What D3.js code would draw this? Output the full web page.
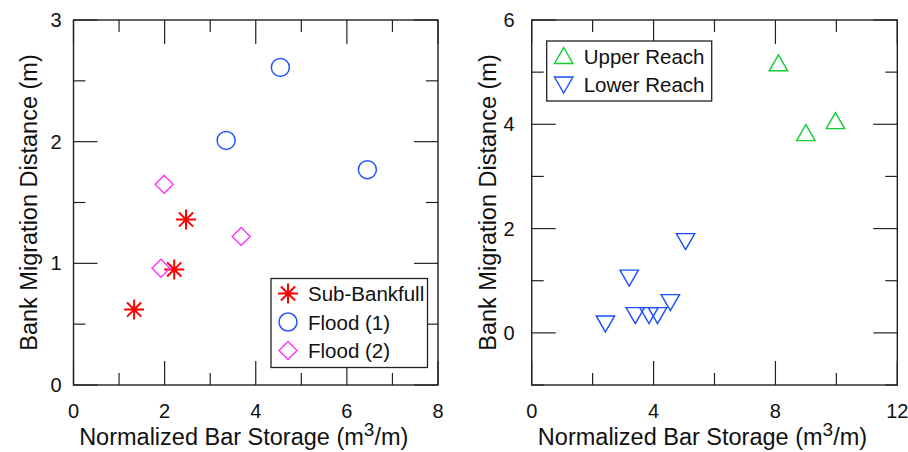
<!DOCTYPE html>
<html>
<head>
<meta charset="utf-8">
<script src="https://cdn.jsdelivr.net/npm/d3@7/dist/d3.min.js"></script>
<style>
	body { margin: 0; background: #fff; }
	svg { display: block; font-family: 'Liberation Sans', Arial, Helvetica, sans-serif; }
	.frame { fill: none; stroke: #222; stroke-width: 1.4; }
	.tick { stroke: #222; stroke-width: 1.2; }
	.ticklabel { font-size: 20px; fill: #111; }
	.title { font-size: 23.5px; fill: #111; }
	.legtext { font-size: 20.5px; fill: #111; }
</style>
</head>
<body>
<div id="chart"></div>
<script>
let width = 908
let height = 452

// left panel data (x: normalized bar storage, y: bank migration distance)
let subBankfullX = [1.33, 2.21, 2.47]
let subBankfullY = [0.62, 0.95, 1.36]
let flood1X = [4.54, 3.35, 6.45]
let flood1Y = [2.61, 2.01, 1.77]
let flood2X = [1.99, 3.68, 1.92]
let flood2Y = [1.65, 1.22, 0.96]

// right panel data
let upperX = [8.1, 9.0, 9.97]
let upperY = [5.17, 3.83, 4.06]
let lowerX = [2.42, 3.2, 3.4, 3.85, 4.13, 4.55, 5.05]
let lowerY = [0.18, 1.06, 0.34, 0.34, 0.34, 0.59, 1.76]

let leftXTicks = [0, 2, 4, 6, 8]
let leftXMinor = [1, 3, 5, 7]
let leftYTicks = [0, 1, 2, 3]
let leftYMinor = [0.5, 1.5, 2.5]
let rightXTicks = [0, 4, 8, 12]
let rightXMinor = [2, 6, 10]
let rightYTicks = [0, 2, 4, 6]
let rightYMinor = [-1, 1, 3, 5]

let svg = d3.select('#chart').append('svg')
	.attr('width', width)
	.attr('height', height)

// marker shapes
function asterisk(g, color) {
	let r = 10
	let d = r * Math.SQRT1_2
	g.append('path')
		.attr('d', `M0,${-r}V${r}M${-r},0H${r}M${-d},${-d}L${d},${d}M${-d},${d}L${d},${-d}`)
		.attr('stroke', color)
		.attr('stroke-width', 2)
		.attr('fill', 'none')
}
function circle(g, color) {
	g.append('circle').attr('r', 9)
		.attr('stroke', color).attr('stroke-width', 1.5).attr('fill', 'none')
}
function diamond(g, color) {
	g.append('path').attr('d', 'M0,-9L9,0L0,9L-9,0Z')
		.attr('stroke', color).attr('stroke-width', 1.4).attr('fill', 'none')
}
function triUp(g, color) {
	g.append('path').attr('d', 'M0,-8.5L9.2,7.5L-9.2,7.5Z')
		.attr('stroke', color).attr('stroke-width', 1.4).attr('fill', 'none')
}
function triDown(g, color) {
	g.append('path').attr('d', 'M0,8.5L9.2,-7.5L-9.2,-7.5Z')
		.attr('stroke', color).attr('stroke-width', 1.4).attr('fill', 'none')
}

function drawPanel(p) {
	let w = p.right - p.left
	let h = p.bottom - p.top

	let xScale = d3.scaleLinear().domain(p.xDomain).range([0, w])
	let yScale = d3.scaleLinear().domain(p.yDomain).range([h, 0])

	let inner = svg.append('g')
		.attr('transform', `translate(${p.left},${p.top})`)

	// inward ticks on all four sides
	let ticks = inner.append('g')
	let major = 24
	let minor = 12
	p.xTicks.concat(p.xMinor).forEach((t) => {
		let len = p.xTicks.includes(t) ? major : minor
		let x = xScale(t)
		ticks.append('line').attr('class', 'tick')
			.attr('x1', x).attr('x2', x).attr('y1', 0).attr('y2', len)
		ticks.append('line').attr('class', 'tick')
			.attr('x1', x).attr('x2', x).attr('y1', h).attr('y2', h - len)
	})
	p.yTicks.concat(p.yMinor).forEach((t) => {
		let len = p.yTicks.includes(t) ? major : minor
		let y = yScale(t)
		ticks.append('line').attr('class', 'tick')
			.attr('x1', 0).attr('x2', len).attr('y1', y).attr('y2', y)
		ticks.append('line').attr('class', 'tick')
			.attr('x1', w).attr('x2', w - len).attr('y1', y).attr('y2', y)
	})

	inner.append('rect').attr('class', 'frame')
		.attr('x', 0).attr('y', 0).attr('width', w).attr('height', h)

	// tick labels
	inner.selectAll('.xl').data(p.xTicks).enter().append('text')
		.attr('class', 'ticklabel')
		.attr('text-anchor', 'middle')
		.attr('x', (d) => xScale(d))
		.attr('y', h + 33)
		.text((d) => d)
	inner.selectAll('.yl').data(p.yTicks).enter().append('text')
		.attr('class', 'ticklabel')
		.attr('text-anchor', 'end')
		.attr('x', -p.yLabelPad)
		.attr('y', (d) => yScale(d) + 7)
		.text((d) => d)

	// axis titles
	let xt = inner.append('text').attr('class', 'title')
		.attr('text-anchor', 'middle')
		.attr('x', w / 2 - 12)
		.attr('y', h + 60)
	xt.append('tspan').text('Normalized Bar Storage (m')
	xt.append('tspan').text('3').attr('dy', -9).attr('font-size', 19)
	xt.append('tspan').text('/m)').attr('dy', 9)

	inner.append('text').attr('class', 'title')
		.attr('text-anchor', 'middle')
		.attr('transform', `translate(${-p.yTitlePad},${h / 2}) rotate(-90)`)
		.text('Bank Migration Distance (m)')

	// marks
	p.series.forEach((s) => {
		s.x.forEach((v, i) => {
			let g = inner.append('g')
				.attr('transform', `translate(${xScale(v)},${yScale(s.y[i])})`)
			s.shape(g, s.color)
		})
	})

	// legend
	let leg = inner.append('g')
		.attr('transform', `translate(${p.legend.x},${p.legend.y})`)
	leg.append('rect')
		.attr('width', p.legend.w)
		.attr('height', p.legend.h)
		.attr('fill', '#fff')
		.attr('stroke', '#222')
		.attr('stroke-width', 1.3)
	p.series.forEach((s, i) => {
		let y = 15 + i * 28.5
		let g = leg.append('g').attr('transform', `translate(17,${y})`)
		s.shape(g, s.color)
		leg.append('text').attr('class', 'legtext')
			.attr('x', 37)
			.attr('y', y + 7.5)
			.text(s.name)
	})
}

drawPanel({
	left: 73.5, right: 438, top: 20, bottom: 385,
	xDomain: [0, 8], yDomain: [0, 3],
	xTicks: leftXTicks, xMinor: leftXMinor,
	yTicks: leftYTicks, yMinor: leftYMinor,
	yLabelPad: 12, yTitlePad: 37,
	series: [
		{ name: 'Sub-Bankfull', x: subBankfullX, y: subBankfullY, color: '#ff0000', shape: asterisk },
		{ name: 'Flood (1)', x: flood1X, y: flood1Y, color: '#2255ff', shape: circle },
		{ name: 'Flood (2)', x: flood2X, y: flood2Y, color: '#ff33ff', shape: diamond },
	],
	legend: { x: 197.5, y: 258.5, w: 156.5, h: 89 },
})

drawPanel({
	left: 531.7, right: 897.3, top: 20, bottom: 385,
	xDomain: [0, 12], yDomain: [-1, 6],
	xTicks: rightXTicks, xMinor: rightXMinor,
	yTicks: rightYTicks, yMinor: rightYMinor,
	yLabelPad: 17, yTitlePad: 36,
	series: [
		{ name: 'Upper Reach', x: upperX, y: upperY, color: '#11cc33', shape: triUp },
		{ name: 'Lower Reach', x: lowerX, y: lowerY, color: '#1a4dff', shape: triDown },
	],
	legend: { x: 15, y: 21, w: 165, h: 60 },
})
</script>
</body>
</html>
